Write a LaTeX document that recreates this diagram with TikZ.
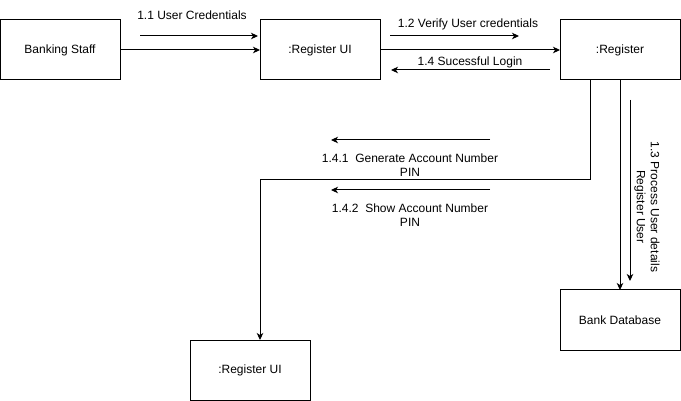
\documentclass[tikz,border=0pt]{standalone}
\usepackage{fontspec}
\setmainfont{Liberation Sans}
\usepackage{tikz}
\usetikzlibrary{arrows.meta}
\usetikzlibrary{positioning}
\tikzset{%
  objbox/.style={rectangle,draw=black,line width=1pt,minimum width=120pt,minimum height=60pt,inner sep=0pt,outer sep=0pt,font=\fontsize{12}{14}\selectfont}
}
\tikzset{%
  link/.style={draw=black,line width=1pt,-{Stealth[length=7pt,width=6.5pt,inset=2pt]}},
  msgtext/.style={font=\fontsize{12}{14}\selectfont,inner sep=0pt,align=center}
}
\begin{document}
\begin{tikzpicture}[x=1pt,y=-1pt,node distance=140pt]
            \useasboundingbox (0,0) rectangle (681,401);
            \node[objbox](staff) at (60,50){Banking Staff};
            \node[objbox,right=of staff](regui){:Register UI};
            \node[objbox,right=180pt of regui](reg){:Register};
            \node[objbox,below=210pt of reg](bankdb){Bank Database};
            \node[objbox](regui2) at (250,370){:Register UI};

            % links between the objects
            \draw[link] (staff) -- (regui);
            \draw[link] (regui) -- (reg);
            \draw[link] ([xshift=-30pt]reg.south) -- ++(0,100) -| ([xshift=10pt]regui2.north);
            \draw[link] (reg) -- (bankdb);

            % messages
            \coordinate (m11a) at (140,36);
            \coordinate (m11b) at (258,36);
            \draw[link] (m11a) -- (m11b);
            \node[msgtext](m11) at (192,15){1.1 User Credentials};
            \coordinate (m12a) at (390,36);
            \coordinate (m12b) at (519,36);
            \draw[link] (m12a) -- (m12b);
            \node[msgtext](m12) at (468,24){1.2 Verify User credentials};
            \coordinate (m14a) at (550,70);
            \coordinate (m14b) at (391,70);
            \draw[link] (m14a) -- (m14b);
            \node[msgtext](m14) at (470,62){1.4 Sucessful Login};
            \coordinate (m141a) at (490,140);
            \coordinate (m141b) at (331,140);
            \draw[link] (m141a) -- (m141b);
            \node[msgtext](m141) at (410,165){1.4.1\ \ Generate Account Number\\PIN};
            \coordinate (m142a) at (490,190);
            \coordinate (m142b) at (331,190);
            \draw[link] (m142a) -- (m142b);
            \node[msgtext](m142) at (410,215){1.4.2\ \ Show Account Number\\PIN};
            \coordinate (m13a) at (630,100);
            \coordinate (m13b) at (630,281);
            \draw[link] (m13a) -- (m13b);
            \node[msgtext,rotate=-90](m13) at (647,207){1.3 Process User details\\Register User};
        \end{tikzpicture}
\end{document}
